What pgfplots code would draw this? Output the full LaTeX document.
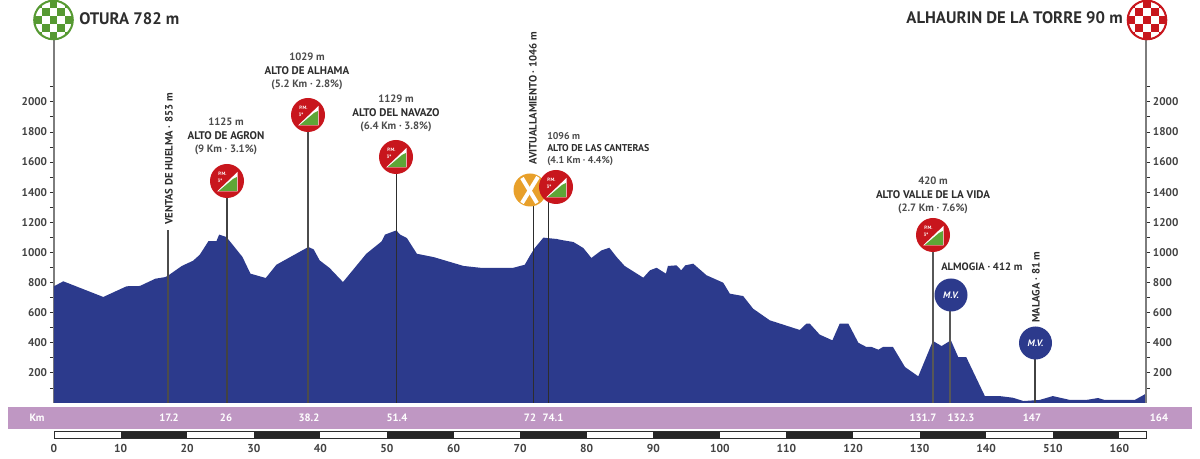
\documentclass[border=0pt]{standalone}
\usepackage{fontspec}
\setmainfont{PT Sans}
\usepackage{pgfplots}
\pgfplotsset{compat=1.18}
\definecolor{prof}{RGB}{44,58,140}
\definecolor{band}{RGB}{191,151,195}
\definecolor{redb}{RGB}{200,22,29}
\definecolor{greenb}{RGB}{94,166,54}
\definecolor{orangeb}{RGB}{232,160,42}
\definecolor{txt}{RGB}{45,45,45}
\definecolor{axg}{RGB}{125,125,125}
\newcommand{\fs}[1]{\fontsize{#1}{#1}\selectfont}
\newcommand{\PM}[2]{\begin{scope}[shift={(#1,#2)}]
 \fill[redb] (0,0) circle (17);
 \fill[white] (-10,10.5)--(10.5,10.5)--(10.5,-9)--cycle;
 \fill[greenb] (-8,9.8)--(9.8,9.8)--(9.8,-4)--(6,-2)--cycle;
 \node[white,font=\fs{3.6}\bfseries,inner sep=0] at (-4.5,-7.5) {P.M.};
 \node[white,font=\fs{3.6}\bfseries,inner sep=0] at (-7,-0.5) {3ª};
 \end{scope}}
\newcommand{\MV}[2]{\begin{scope}[shift={(#1,#2)}]
 \fill[prof] (0,0) circle (16.5);
 \node[white,font=\fs{7}\bfseries\itshape,inner sep=0] at (0,0) {M.V.};
 \end{scope}}
\newcommand{\Chk}[3]{\begin{scope}[shift={(#1,#2)}]
 \fill[white] (0,0) circle (20);
 \begin{scope}
 \clip (0,0) circle (20);
 \foreach \i in {-3,...,3}{\foreach \j in {-3,...,3}{
   \pgfmathparse{int(mod(\i+\j+12,2))}
   \ifnum\pgfmathresult=0 \fill[#3] (\i*7.7-3.85,\j*7.7-3.85) rectangle +(7.7,7.7);\fi}}
 \end{scope}
 \draw[#3,line width=1.5pt] (0,0) circle (19.3);
 \end{scope}}
\newcommand{\Three}[5]{%
 \node[font=\fs{8}\bfseries,text=txt!85,inner sep=0] at (#1,#2) {#3};
 \node[font=\fs{8.3}\bfseries,text=txt,inner sep=0] at (#1,#2+14) {#4};
 \node[font=\fs{8}\bfseries,text=txt!85,inner sep=0] at (#1,#2+28) {#5};}
\pgfplotstableread{
km h
0 775
1.4 808
7.4 704
10.9 775
12.9 777
15.2 825
16.7 836
17.2 848
19.2 910
20.9 945
21.9 985
23.2 1075
24.4 1075
24.8 1118
25.9 1102
26.9 1047
28.3 970
29.5 859
31.8 830
33.4 918
38.2 1036
39.0 1020
39.9 947
41.4 896
43.4 803
46.9 991
49.2 1073
49.7 1118
51.4 1146
52 1118
53 1095
54.5 991
57 969
61.5 910
64 898
69 898
70.7 918
71.5 980
72.2 1029
73.5 1098
75.5 1089
76.5 1080
78 1069
79.5 1029
80.7 963
82.2 1013
83.4 1031
84.5 969
85.7 910
88.5 832
89.5 881
90.5 898
91.9 859
92.2 910
93.5 914
94.2 881
94.8 914
96 925
98 848
100.5 799
101.5 726
103.5 710
105 626
107.5 549
112 485
113 527
113.5 527
115 454
116.9 416
118 527
119.3 527
120.8 400
122 372
122.8 372
123.8 354
124.5 372
126 372
127.8 239
129.8 177
132 412
133.3 378
134.7 416
135.8 305
137 305
139.8 46
142 46
144 35
145.6 13
148 20
150 46
152.6 20
155 20
156.8 33
157.8 20
162.3 20
164 62
}\profile
\pgfplotsset{base/.style={
  scale only axis, width=819pt, height=272.25pt,
  xmin=0, xmax=164, ymin=0, ymax=2410.4,
  clip=false,
  ytick={200,400,...,2000},
  minor ytick={100,300,...,2100},
  tick align=outside,
  major tick length=3pt, minor tick length=3pt,
  y axis line style={draw=axg,line width=0.9pt},
  ytick style={draw=txt,line width=0.6pt},
  minor tick style={draw=txt,line width=0.6pt},
  /pgf/number format/1000 sep={},
  /pgf/number format/assume math mode=true,
  yticklabel style={font=\fs{8.4}\bfseries,text=txt!90,inner xsep=2pt},
}}
\begin{document}
\begin{tikzpicture}
\useasboundingbox (-40.5pt,-42pt) rectangle (859.5pt,302.25pt);
\begin{axis}[base,
  axis y line*=left,
  x axis line style={draw=none},
  axis x line*=bottom,
  xtick={0,10,...,160},
  xticklabels={0,10,20,30,40,50,60,70,80,90,100,110,120,130,140,510,160},
  major x tick style={draw=none},
  xticklabel style={font=\fs{8.6}\bfseries,text=txt!90,yshift=-24.5pt},
]
% band
\fill[band] (axis cs:-6.9,-27) rectangle (axis cs:170.9,-176);
% profile
\addplot[draw=none,fill=prof,forget plot] table[x=km,y=h] {\profile} \closedcycle;
% drop lines
\addplot[draw=txt!85,line width=1.4pt] coordinates {(17.1,0)(17.1,1148)};
\addplot[draw=txt!90,line width=1.2pt] coordinates {(26,0)(26,1470)};
\addplot[draw=txt!85,line width=1.4pt] coordinates {(38.1,0)(38.1,1910)};
\addplot[draw=txt,line width=1.1pt] coordinates {(51.4,0)(51.4,1630)};
\addplot[draw=txt,line width=0.8pt] coordinates {(72,0)(72,1414)};
\addplot[draw=txt,line width=0.8pt] coordinates {(74.3,0)(74.3,1434)};
\addplot[draw=txt!80,line width=1.3pt] coordinates {(132,0)(132,1115)};
\addplot[draw=txt!80,line width=1.3pt] coordinates {(134.6,0)(134.6,717)};
\addplot[draw=txt!90,line width=1.1pt] coordinates {(147.3,0)(147.3,398)};
% distance scale
\addplot[fill=white,draw=txt,line width=0.6pt] coordinates {(0,-190)(164,-190)(164,-234)(0,-234)} -- cycle;
\addplot[fill=black!85,draw=none] coordinates {(10,-190)(20,-190)(20,-234)(10,-234)} -- cycle;
\addplot[fill=black!85,draw=none] coordinates {(30,-190)(40,-190)(40,-234)(30,-234)} -- cycle;
\addplot[fill=black!85,draw=none] coordinates {(50,-190)(60,-190)(60,-234)(50,-234)} -- cycle;
\addplot[fill=black!85,draw=none] coordinates {(70,-190)(80,-190)(80,-234)(70,-234)} -- cycle;
\addplot[fill=black!85,draw=none] coordinates {(90,-190)(100,-190)(100,-234)(90,-234)} -- cycle;
\addplot[fill=black!85,draw=none] coordinates {(110,-190)(120,-190)(120,-234)(110,-234)} -- cycle;
\addplot[fill=black!85,draw=none] coordinates {(130,-190)(140,-190)(140,-234)(130,-234)} -- cycle;
\addplot[fill=black!85,draw=none] coordinates {(150,-190)(160,-190)(160,-234)(150,-234)} -- cycle;
\end{axis}
\begin{axis}[base,
  axis y line*=right,
  axis x line=none,
]
\end{axis}
\begin{scope}[x=0.75pt,y=-0.75pt,shift={(-54,-403)}]
\Chk{53.5}{20}{greenb!92!black}
\Chk{1147}{20}{redb}
\PM{227}{181}\PM{308}{115}\PM{396}{157}
\fill[orangeb] (530,190) circle (16.5);
\draw[white,line width=3pt] (522,178)--(537,203);
\draw[white,line width=3pt] (538,177)--(522,203);
\PM{556}{187}\PM{933}{235}
\MV{951}{295}\MV{1035.5}{343}
\node[font=\fs{12.5}\bfseries,text=txt,anchor=west,inner sep=0] at (79,19) {OTURA 782 m};
\node[font=\fs{12.5}\bfseries,text=txt,anchor=east,inner sep=0] at (1123,18) {ALHAURIN DE LA TORRE 90 m};
\Three{226}{122}{1125 m}{ALTO DE AGRON}{(9 Km · 3.1\%)}
\Three{307}{57}{1029 m}{ALTO DE ALHAMA}{(5.2 Km · 2.8\%)}
\Three{396}{99}{1129 m}{ALTO DEL NAVAZO}{(6.4 Km · 3.8\%)}
\Three{933}{181}{420 m}{ALTO VALLE DE LA VIDA}{(2.7 Km · 7.6\%)}
\node[font=\fs{7.4}\bfseries,text=txt!85,anchor=west,inner sep=0] at (547,136) {1096 m};
\node[font=\fs{7.4}\bfseries,text=txt,anchor=west,inner sep=0] at (547,148.5) {ALTO DE LAS CANTERAS};
\node[font=\fs{7.4}\bfseries,text=txt!85,anchor=west,inner sep=0] at (547,161) {(4.1 Km · 4.4\%)};
\node[font=\fs{8}\bfseries,text=txt,anchor=west,inner sep=0] at (941,267) {ALMOGIA · 412 m};
\node[font=\fs{8}\bfseries,text=txt,rotate=90,anchor=west,inner sep=0] at (169,225) {VENTAS DE HUELMA · 853 m};
\node[font=\fs{8}\bfseries,text=txt,rotate=90,anchor=west,inner sep=0] at (533,165) {AVITUALLAMIENTO · 1046 m};
\node[font=\fs{8}\bfseries,text=txt,rotate=90,anchor=west,inner sep=0] at (1036,323) {MALAGA · 81 m};
\foreach \x/\t in {37/Km,169/17.2,226/26,309/38.2,397/51.4,530/72,553/74.1,923/131.7,961/132.3,1032/147,1159/164}
  \node[white,font=\fs{8}\bfseries,inner sep=0] at (\x,418) {\t};
\end{scope}
\end{tikzpicture}
\end{document}
